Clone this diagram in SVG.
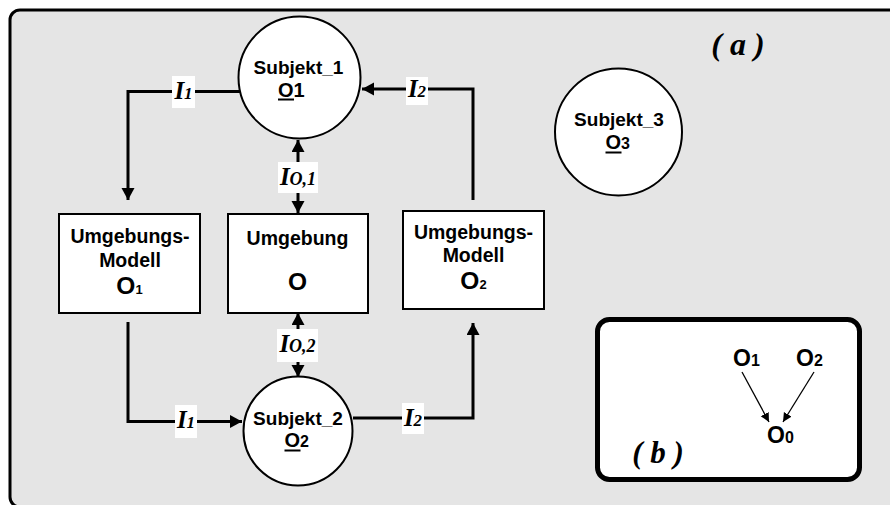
<svg xmlns="http://www.w3.org/2000/svg" width="890" height="505" viewBox="0 0 890 505">
<style>
.node{fill:#fff;stroke:#000;stroke-width:2}
.sans{font-family:"Liberation Sans",Arial,sans-serif;font-weight:bold;fill:#000}
.ital{font-family:"Liberation Serif","Times New Roman",serif;font-weight:bold;font-style:italic;fill:#000}
.conn{fill:none;stroke:#000;stroke-width:3}
.thin{fill:none;stroke:#000;stroke-width:1.3}
.lbl{fill:#fff;stroke:none}
</style>
<defs>
<marker id="arr" markerUnits="userSpaceOnUse" markerWidth="14" markerHeight="14" refX="12" refY="6.5" orient="auto-start-reverse">
<path d="M0,0 L12,6.5 L0,13 z" fill="#000"/>
</marker>
<marker id="arrs" markerUnits="userSpaceOnUse" markerWidth="10" markerHeight="10" refX="9" refY="4.5" orient="auto">
<path d="M0,0 L9,4.5 L0,9 z" fill="#000"/>
</marker>
</defs>
<rect x="10" y="10" width="895" height="497" rx="10" fill="#e5e5e5" stroke="#000" stroke-width="3"/>
<text class="ital" x="738" y="55" font-size="32" text-anchor="middle">( a )</text>

<g id="connectors">
<path class="conn" d="M240,91.5 H128 V200" marker-end="url(#arr)"/>
<path class="conn" d="M473,200 V89 H362" marker-end="url(#arr)"/>
<path class="conn" d="M298,140 V213" marker-start="url(#arr)" marker-end="url(#arr)"/>
<path class="conn" d="M298,313 V377" marker-start="url(#arr)" marker-end="url(#arr)"/>
<path class="conn" d="M128,322 V421.5 H242" marker-end="url(#arr)"/>
<path class="conn" d="M353,418 H473 V323" marker-end="url(#arr)"/>
<rect class="lbl" x="172" y="76" width="23" height="32"/>
<text class="ital" x="183.5" y="99" font-size="25" text-anchor="middle">I<tspan font-size="17">1</tspan></text>
<rect class="lbl" x="406" y="77" width="22" height="28"/>
<text class="ital" x="417" y="96.5" font-size="25" text-anchor="middle">I<tspan font-size="17">2</tspan></text>
<rect class="lbl" x="278" y="162" width="40" height="31"/>
<text class="ital" x="298" y="185" font-size="25" text-anchor="middle">I<tspan font-size="18">O,1</tspan></text>
<rect class="lbl" x="277" y="329" width="41" height="33"/>
<text class="ital" x="297.5" y="352" font-size="25" text-anchor="middle">I<tspan font-size="18">O,2</tspan></text>
<rect class="lbl" x="175" y="405" width="22" height="33"/>
<text class="ital" x="186" y="428" font-size="25" text-anchor="middle">I<tspan font-size="17">1</tspan></text>
<rect class="lbl" x="402" y="403" width="22" height="31"/>
<text class="ital" x="413" y="426" font-size="25" text-anchor="middle">I<tspan font-size="17">2</tspan></text>
</g>

<g id="subjekt1">
<circle class="node" cx="299.5" cy="77.5" r="61"/>
<text class="sans" x="298.5" y="74" font-size="19" text-anchor="middle">Subjekt_1</text>
<text class="sans" x="278" y="96.5" font-size="20">O1</text>
<rect x="278" y="98.5" width="16" height="2"/>
</g>

<g id="umgebungsmodell1">
<rect class="node" x="59" y="214" width="141" height="99"/>
<text class="sans" x="130" y="243" font-size="19.5" text-anchor="middle">Umgebungs-</text>
<text class="sans" x="130" y="266.5" font-size="19.5" text-anchor="middle">Modell</text>
<text class="sans" x="129.5" y="294" font-size="24.5" text-anchor="middle">O<tspan font-size="13">1</tspan></text>
</g>

<g id="umgebung">
<rect class="node" x="228" y="214" width="140" height="99"/>
<text class="sans" x="297.5" y="245" font-size="19.5" text-anchor="middle">Umgebung</text>
<text class="sans" x="297.5" y="290" font-size="24.5" text-anchor="middle">O</text>
</g>

<g id="umgebungsmodell2">
<rect class="node" x="403" y="211" width="141" height="98"/>
<text class="sans" x="473.5" y="238.5" font-size="19.5" text-anchor="middle">Umgebungs-</text>
<text class="sans" x="473.5" y="261.5" font-size="19.5" text-anchor="middle">Modell</text>
<text class="sans" x="473.5" y="289" font-size="24.5" text-anchor="middle">O<tspan font-size="13">2</tspan></text>
</g>

<g id="subjekt2">
<circle class="node" cx="298" cy="431" r="54.5"/>
<text class="sans" x="298" y="425" font-size="19" text-anchor="middle">Subjekt_2</text>
<text class="sans" x="284.5" y="447" font-size="20">O<tspan font-size="16">2</tspan></text>
<rect x="284.5" y="449.5" width="16" height="2"/>
</g>

<g id="subjekt3">
<circle class="node" cx="618.5" cy="132" r="63.5"/>
<text class="sans" x="619" y="126" font-size="19" text-anchor="middle">Subjekt_3</text>
<text class="sans" x="605.5" y="149" font-size="20">O<tspan font-size="16">3</tspan></text>
<rect x="605.5" y="151.5" width="16" height="2"/>
</g>

<g id="panel-b">
<rect x="597.5" y="319.5" width="262" height="160" rx="12" fill="#fff" stroke="#000" stroke-width="5"/>
<text class="ital" x="658" y="463" font-size="31" text-anchor="middle">( b )</text>
<text class="sans" x="733" y="366" font-size="23">O<tspan font-size="16">1</tspan></text>
<text class="sans" x="796" y="366" font-size="23">O<tspan font-size="16">2</tspan></text>
<text class="sans" x="767" y="443" font-size="23">O<tspan font-size="16">0</tspan></text>
<path class="thin" d="M742,372 L769,422" marker-end="url(#arrs)"/>
<path class="thin" d="M814,372 L783,422" marker-end="url(#arrs)"/>
</g>
</svg>
